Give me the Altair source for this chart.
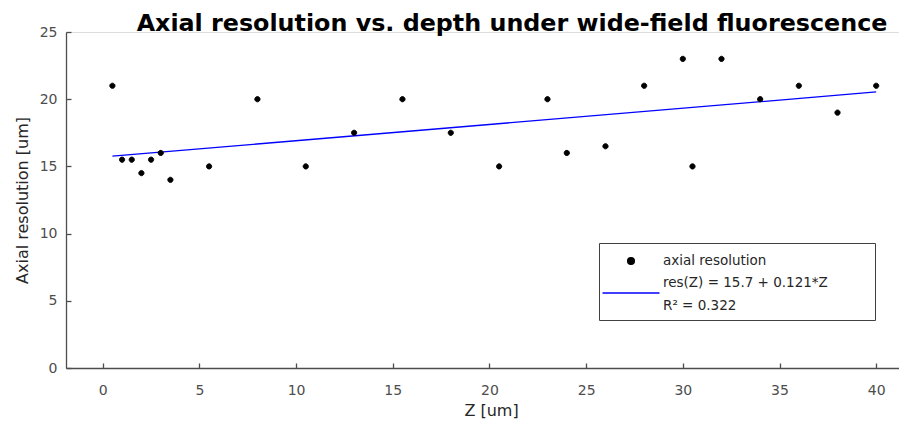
import json
import altair as alt
import pandas as pd

# ---- data ----
z_um = [0.5, 1, 1.5, 2, 2.5, 3, 3.5, 5.5, 8, 10.5, 13, 15.5, 18, 20.5, 23, 24, 26,
        28, 30, 30.5, 32, 34, 36, 38, 40]
axial_res = [21, 15.5, 15.5, 14.5, 15.5, 16, 14, 15, 20, 15, 17.5, 20, 17.5, 15, 20,
             16, 16.5, 21, 23, 15, 23, 20, 21, 19, 21]
series_names = ["axial resolution", "fit"]
fit_intercept = 15.7
fit_slope = 0.121
fit_z = [0.5, 40]
fit_label_lines = ["res(Z) = 15.7 + 0.121*Z", "R² = 0.322"]
x_ticks = [0, 5, 10, 15, 20, 25, 30, 35, 40]
y_ticks = [0, 5, 10, 15, 20, 25]
title_text = "Axial resolution vs. depth under wide-field fluorescence"

pts = pd.DataFrame({"z": z_um, "res": axial_res, "series": series_names[0]})
fit = pd.DataFrame({"z": fit_z, "res": [fit_intercept + fit_slope * z for z in fit_z]})

FONT = "DejaVu Sans"
AX = "#4d4d4d"

x_scale = alt.Scale(domain=[-1.9, 41.18], nice=False, zero=False)
y_scale = alt.Scale(domain=[0, 25], nice=False)

x_axis = alt.Axis(values=x_ticks, title="Z [um]", grid=False,
                  domainColor=AX, domainWidth=1.3, tickColor=AX, tickWidth=1.3,
                  tickSize=alt.ExprRef(expr="-5"), labelPadding=20,
                  labelFont=FONT, labelFontSize=14, labelColor=AX,
                  titleFont=FONT, titleFontSize=16, titleFontWeight="normal",
                  titleColor="#262626", titleBaseline="alphabetic",
                  titleX=425, titleY=47)
y_axis = alt.Axis(values=y_ticks, title="Axial resolution [um]", grid=False,
                  domainColor=AX, domainWidth=1.3, tickColor=AX, tickWidth=1.3,
                  tickSize=alt.ExprRef(expr="-5"), labelPadding=14,
                  labelFont=FONT, labelFontSize=14, labelColor=AX,
                  titleFont=FONT, titleFontSize=16, titleFontWeight="normal",
                  titleColor="#262626", titleBaseline="alphabetic",
                  titleX=-39, titleY=168, titleAngle=-90)

label_expr = ("datum.value == 'fit' ? " +
              json.dumps([fit_label_lines[0] + "\u2800" * 4, fit_label_lines[1]],
                         ensure_ascii=False) +
              " : datum.label")

legend = alt.Legend(title=None, orient="none", legendX=533, legendY=211,
                    symbolSize=400, symbolStrokeWidth=1.3, symbolOpacity=1,
                    symbolOffset=14,
                    labelFont=FONT, labelFontSize=13.5, labelColor="#262626",
                    labelLimit=500, labelExpr=label_expr, labelOffset=21,
                    strokeColor="#404040", fillColor="white", padding=7,
                    rowPadding=4)

dot_path = "M-0.34,0A0.34,0.34,0,1,0,0.34,0A0.34,0.34,0,1,0,-0.34,0Z"
line_path = "M-2.85,1H2.85"
colors = ["black", "#0000ff"]

points = alt.Chart(pts).mark_point(filled=True, opacity=1, size=234, strokeWidth=1).encode(
    x=alt.X("z:Q", scale=x_scale, axis=x_axis),
    y=alt.Y("res:Q", scale=y_scale, axis=y_axis),
    fill=alt.Fill("series:N", scale=alt.Scale(domain=series_names, range=colors), legend=legend),
    stroke=alt.Stroke("series:N", scale=alt.Scale(domain=series_names, range=colors), legend=legend),
    shape=alt.Shape("series:N", scale=alt.Scale(domain=series_names, range=[dot_path, line_path]), legend=legend),
)

line = alt.Chart(fit).mark_line(color="#0000ff", strokeWidth=1.3).encode(
    x=alt.X("z:Q", scale=x_scale),
    y=alt.Y("res:Q", scale=y_scale),
)

chart = alt.layer(line, points).properties(
    width=833, height=336,
    autosize=alt.AutoSizeParams(type="none"),
    padding={"left": 58, "top": 24, "right": 0, "bottom": 52},
    title=alt.Title(title_text, font=FONT, fontSize=23.8, fontWeight="bold", color="black",
                    anchor="middle", dx=29.5, offset=-30, baseline="alphabetic"),
).configure_view(stroke=None).configure(
    background="white",
    style={"guide-label": {"lineHeight": 23}},
)

chart.save("out.html", embed_options={"renderer": "svg", "actions": False})
